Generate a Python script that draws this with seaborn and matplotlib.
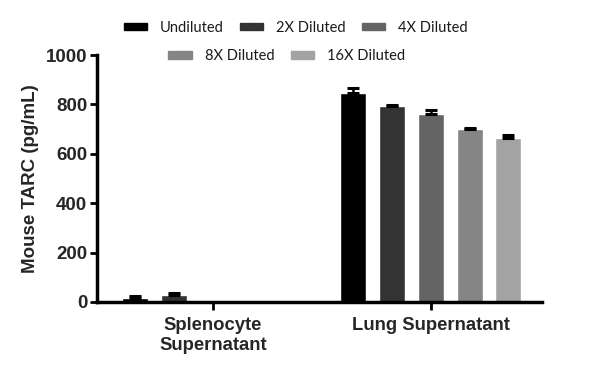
import matplotlib
matplotlib.use("Agg")
import matplotlib.pyplot as plt
import seaborn as sns
import pandas as pd
from matplotlib.patches import Patch

# values
samples = ["Splenocyte\nSupernatant", "Lung Supernatant"]
dilutions = ["Undiluted", "2X Diluted", "4X Diluted", "8X Diluted", "16X Diluted"]
spleno_vals = [17, 28, 0, 0, 0]
spleno_err = [9, 8, 0, 0, 0]
lung_vals = [847, 795, 762, 700, 664]
lung_err = [18, 4, 17, 3, 11]
colors = ["#000000", "#333333", "#646464", "#858585", "#a3a3a3"]

rows = []
for d, v, e in zip(dilutions, spleno_vals, spleno_err):
    rows.append({"sample": samples[0], "dilution": d, "value": v, "err": e})
for d, v, e in zip(dilutions, lung_vals, lung_err):
    rows.append({"sample": samples[1], "dilution": d, "value": v, "err": e})
df = pd.DataFrame(rows)

sns.set_theme(style="ticks")
plt.rcParams["font.family"] = ["Liberation Sans", "DejaVu Sans"]

fig = plt.figure(figsize=(6, 3.75), dpi=100)
ax = fig.add_axes([0.1617, 0.1947, 0.7413, 0.6583])

sns.barplot(data=df, x="sample", y="value", hue="dilution", order=samples,
            hue_order=dilutions, palette=colors, width=0.89, gap=0.33,
            errorbar=None, legend=False, saturation=1, ax=ax)

# upper-only error bars placed at the bar centres seaborn produced
for i, d in enumerate(dilutions):
    bars = ax.containers[i]
    sub = df[df["dilution"] == d].set_index("sample").loc[samples]
    xs = [p.get_x() + p.get_width() / 2 for p in bars.patches]
    for x, v, e in zip(xs, sub["value"], sub["err"]):
        if v <= 0:
            continue
        ax.errorbar([x], [v], yerr=[[0], [e]], fmt="none", ecolor="black",
                    elinewidth=1.8, capsize=4.5, capthick=2.2)

ax.set_xlim(-0.532, 1.509)
ax.set_ylim(0, 1000)
ax.set_yticks([0, 200, 400, 600, 800, 1000])
ax.set_xlabel("")
ax.set_ylabel("Mouse TARC (pg/mL)", fontsize=13.5, fontweight="bold", labelpad=5)
for lab in ax.get_yticklabels() + ax.get_xticklabels():
    lab.set_fontweight("bold")
ax.tick_params(axis="y", labelsize=13.5, width=2, length=5, color="black", pad=2)
ax.tick_params(axis="x", labelsize=13.3, width=2, length=6, color="black", pad=5)
sns.despine(ax=ax)
for s in ["left", "bottom"]:
    ax.spines[s].set_linewidth(2.5)
    ax.spines[s].set_color("black")

# two-row legend, 3 + 2 entries, centred above the plot
handles = [Patch(facecolor=c, edgecolor=c) for c in colors]
legend_kw = dict(frameon=False, fontsize=10.5, handlelength=1.6, handleheight=0.45,
                 handletextpad=0.9, columnspacing=1.1, borderaxespad=0)
fig.legend(handles[:3], dilutions[:3], ncol=3, loc="center",
           bbox_to_anchor=(0.493, 0.926), **legend_kw)
fig.legend(handles[3:], dilutions[3:], ncol=2, loc="center",
           bbox_to_anchor=(0.478, 0.851), **legend_kw)
for leg in fig.legends:
    for t in leg.get_texts():
        t.set_family(["Lato", "DejaVu Sans"])
        t.set_color("#1a1a1a")

fig.savefig("out.png", dpi=100)
